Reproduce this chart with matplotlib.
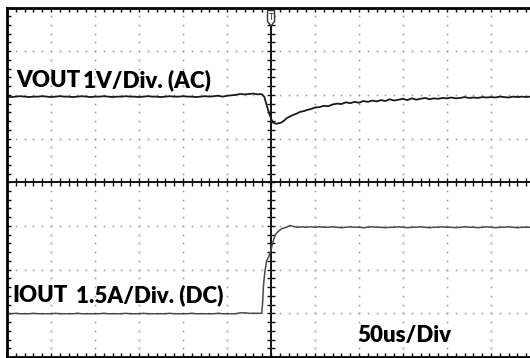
import numpy as np
import matplotlib.pyplot as plt
from matplotlib.patches import Polygon
from matplotlib.ticker import MultipleLocator

# scope traces, in divisions (x: time div, y: vertical div)
vout_pre_t = np.round(np.arange(-6.0, -0.25, 0.1), 2)
vout_pre_v = [1.96, 1.95, 1.96, 1.97, 1.96, 1.95, 1.96, 1.96, 1.97, 1.96,
              1.95, 1.96, 1.97, 1.96, 1.96, 1.95, 1.96, 1.97, 1.96, 1.95,
              1.96, 1.96, 1.97, 1.96, 1.95, 1.96, 1.96, 1.97, 1.96, 1.96,
              1.95, 1.96, 1.97, 1.96, 1.96, 1.95, 1.96, 1.97, 1.96, 1.96,
              1.97, 1.96, 1.96, 1.95, 1.96, 1.97, 1.96, 1.97, 1.98, 1.96,
              1.98, 1.99, 2.00, 2.02, 2.01, 2.02, 2.03, 2.01]
vout_mid_t = [-0.25, -0.2, -0.15, -0.1, -0.05, 0.0, 0.04, 0.08, 0.12, 0.17, 0.22,
              0.27, 0.32, 0.36, 0.42, 0.5, 0.58, 0.66, 0.75, 0.84, 0.92]
vout_mid_v = [2.02, 2.01, 1.95, 1.77, 1.60, 1.46, 1.37, 1.35, 1.34, 1.35, 1.36,
              1.39, 1.43, 1.47, 1.50, 1.54, 1.57, 1.61, 1.63, 1.66, 1.68]
vout_post_t = np.round(np.arange(1.0, 5.95, 0.1), 2)
vout_post_v = [1.71, 1.72, 1.75, 1.74, 1.78, 1.80, 1.79, 1.83, 1.81, 1.84,
               1.82, 1.86, 1.84, 1.87, 1.85, 1.88, 1.86, 1.90, 1.87, 1.89,
               1.91, 1.88, 1.92, 1.89, 1.91, 1.93, 1.90, 1.92, 1.91, 1.93,
               1.92, 1.94, 1.92, 1.93, 1.95, 1.93, 1.94, 1.93, 1.95, 1.94,
               1.95, 1.94, 1.96, 1.95, 1.94, 1.96, 1.95, 1.96, 1.95, 1.96]

iout_pre_t = np.round(np.arange(-6.0, -0.25, 0.1), 2)
iout_pre_v = [-3.01, -3.01, -3.00, -3.01, -3.01, -3.01, -3.00, -3.01, -3.01, -3.01,
              -3.01, -3.00, -3.01, -3.01, -3.01, -3.01, -3.00, -3.01, -3.01, -3.01,
              -3.01, -3.01, -3.00, -3.01, -3.01, -3.01, -3.01, -3.00, -3.01, -3.01,
              -3.01, -3.00, -3.01, -3.01, -3.01, -3.01, -3.01, -3.00, -3.01, -3.01,
              -3.01, -3.01, -3.00, -3.01, -3.01, -3.01, -3.01, -3.01, -3.00, -3.01,
              -3.01, -3.01, -3.01, -2.99, -2.99, -3.00, -3.00, -3.00]
iout_mid_t = [-0.24, -0.21, -0.19, -0.17, -0.14, -0.1, -0.05, 0.0, 0.04, 0.09, 0.13,
              0.17, 0.22, 0.28, 0.35, 0.43, 0.5, 0.6, 0.7, 0.8, 0.9]
iout_mid_v = [-3.00, -2.99, -2.75, -2.35, -2.05, -1.80, -1.70, -1.55, -1.38, -1.22, -1.16,
              -1.12, -1.08, -1.05, -1.03, -0.99, -1.01, -1.03, -1.02, -1.03, -1.02]
iout_post_t = np.round(np.arange(1.0, 5.95, 0.1), 2)
iout_post_v = [-1.03, -1.02, -1.03, -1.03, -1.02, -1.03, -1.04, -1.03, -1.02, -1.03,
               -1.03, -1.04, -1.03, -1.02, -1.03, -1.03, -1.04, -1.03, -1.03, -1.02,
               -1.03, -1.04, -1.03, -1.03, -1.02, -1.03, -1.04, -1.03, -1.03, -1.02,
               -1.03, -1.03, -1.04, -1.03, -1.02, -1.03, -1.03, -1.04, -1.03, -1.02,
               -1.03, -1.04, -1.03, -1.03, -1.02, -1.03, -1.04, -1.03, -1.03, -1.03]

trig_t = 0.0

vout_t = np.concatenate([vout_pre_t, vout_mid_t, vout_post_t])
vout_v = np.concatenate([vout_pre_v, vout_mid_v, vout_post_v])
iout_t = np.concatenate([iout_pre_t, iout_mid_t, iout_post_t])
iout_v = np.concatenate([iout_pre_v, iout_mid_v, iout_post_v])

fig = plt.figure(figsize=(5.3, 3.58), dpi=100)
ax = fig.add_axes([7/530, 1/358, 523/530, 349.5/358])
ax.set_xlim(-6, 5.886)
ax.set_ylim(-4, 4)

# dotted graticule
sub = np.arange(-30, 31) / 5
for k in range(-5, 6):
    if k != 0:
        ax.plot(np.full(41, k), sub[10:51], ls='none', marker='s', ms=1.1, color='#959595', mew=0)
for k in range(-3, 4):
    if k != 0:
        ax.plot(sub, np.full(sub.size, k), ls='none', marker='s', ms=1.1, color='#959595', mew=0)

# centre cross with ticks
ax.axhline(0, color='#111', lw=1.4)
ax.axvline(0, color='#111', lw=1.4)
ax.plot(sub, np.zeros(sub.size), ls='none', marker='|', ms=6, mew=1, color='#111')
ax.plot(np.zeros(41), sub[10:51], ls='none', marker='_', ms=6, mew=1, color='#111')

# frame
for s in ['left', 'top', 'bottom']:
    ax.spines[s].set_linewidth(2)
ax.spines['right'].set_visible(False)
ax.xaxis.set_major_locator(MultipleLocator(1))
ax.xaxis.set_minor_locator(MultipleLocator(0.2))
ax.yaxis.set_major_locator(MultipleLocator(1))
ax.yaxis.set_minor_locator(MultipleLocator(0.2))
ax.tick_params(which='both', direction='in', length=3, width=1, top=True, right=False,
               labelbottom=False, labelleft=False)

# traces
ax.plot(vout_t, vout_v, color='#1a1a1a', lw=1.3)
ax.plot(iout_t, iout_v, color='#4a4a4a', lw=1.1)

# trigger marker
ax.add_patch(Polygon([(trig_t - 0.08, 3.93), (trig_t + 0.08, 3.93), (trig_t + 0.08, 3.68),
                      (trig_t, 3.58), (trig_t - 0.08, 3.68)], closed=True,
                     facecolor='white', edgecolor='#333', lw=1, zorder=5))
ax.text(trig_t, 3.77, 'T', ha='center', va='center', fontsize=6, color='#333', zorder=6)

font = dict(family='Lato', weight='heavy', fontsize=16, color='black')
fig.text(16/530, 1 - 87/358, 'VOUT', va='baseline', **font)
fig.text(83/530, 1 - 87/358, '1V/Div. (AC)', va='baseline', **font)
fig.text(12/530, 1 - 302/358, 'IOUT', va='baseline', **font)
fig.text(76/530, 1 - 302/358, '1.5A/Div. (DC)', va='baseline', **font)
fig.text(357/530, 1 - 342/358, '50us/Div', va='baseline', **font)

fig.savefig('out.png', dpi=100)
